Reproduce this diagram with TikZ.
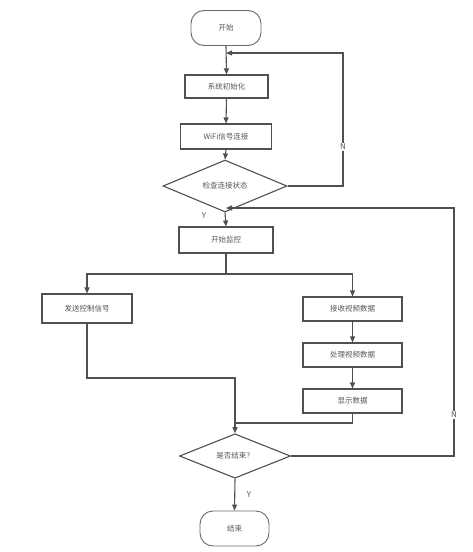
\documentclass[tikz,border=0pt]{standalone}
\usepackage{fontspec}
\setmainfont{Noto Sans CJK SC}
\usetikzlibrary{shapes.geometric,arrows.meta}
\definecolor{linec}{HTML}{505050}
\definecolor{termc}{HTML}{6A6A6A}
\definecolor{txtc}{HTML}{555555}
\tikzset{
  base/.style={draw=linec, line width=1.1pt, fill=white, inner sep=0pt, text=txtc, font=\fontsize{7.5}{9}\selectfont},
  procbox/.style={base, rectangle},
  termbox/.style={base, draw=termc, line width=0.9pt, rectangle, rounded corners=13pt},
  decbox/.style={base, diamond},
  conn/.style={draw=linec, line width=1.1pt},
  arr/.style={conn, -{Triangle[length=6pt,width=5pt]}},
  lbl/.style={text=txtc, font=\fontsize{8}{9}\selectfont, inner sep=1pt},
}
\begin{document}
\begin{tikzpicture}[x=1pt,y=-1pt]
\useasboundingbox (0,0) rectangle (472,552);
\node[termbox, minimum width=70pt, minimum height=35pt] (start) at (226,28) {开始};
\node[procbox, minimum width=83pt, minimum height=23pt] (init) at (226.5,86.5) {系统初始化};
\node[procbox, minimum width=91pt, minimum height=25pt] (wifi) at (226,136.5) {WiFi信号连接};
\node[decbox, minimum width=124pt, minimum height=42pt] (check) at (225,186) {检查连接状态};
\node[procbox, minimum width=94pt, minimum height=26pt] (mon) at (226,240) {开始监控};
\node[procbox, minimum width=90pt, minimum height=29pt] (send) at (87,308.5) {发送控制信号};
\node[procbox, minimum width=99pt, minimum height=24pt] (recv) at (352.5,309) {接收视频数据};
\node[procbox, minimum width=99pt, minimum height=24pt] (proc) at (352.5,355) {处理视频数据};
\node[procbox, minimum width=99pt, minimum height=24pt] (show) at (352.5,401) {显示数据};
\node[decbox, minimum width=111pt, minimum height=41pt] (endq) at (235,456) {是否结束？};
\node[termbox, minimum width=69pt, minimum height=35pt] (stop) at (234.5,528.5) {结束};

\coordinate (n1) at (343,53);
\coordinate (n2) at (454,208);
\coordinate (split) at (226,274);
\coordinate (m1) at (235,378);
\coordinate (m2) at (235,423);

\draw[arr] (start.south) -- (init.north);
\draw[arr] (init.south) -- (wifi.north);
\draw[arr] (wifi.south) -- (check.north);
\draw[arr] (check.east) -| (n1) -- (start.south |- n1);
\draw[arr] (check.south) -- (mon.north);
\draw[arr] (endq.east) -| (n2) -- (mon.north |- n2);
\draw[conn] (mon.south) -- (split);
\draw[arr] (split) -| (send.north);
\draw[arr] (split) -| (recv.north);
\draw[arr] (recv.south) -- (proc.north);
\draw[arr] (proc.south) -- (show.north);
\draw[conn] (show.south) |- (m2);
\draw[arr] (send.south) |- (m1) -- (endq.north);
\draw[arr] (endq.south) -- (stop.north);

\node[lbl, fill=white] (ln1) at (343,147) {N};
\node[lbl, fill=white] (ln2) at (454,415) {N};
\node[lbl] (ly1) at (204,216) {Y};
\node[lbl] (ly2) at (249,495) {Y};
\end{tikzpicture}
\end{document}
